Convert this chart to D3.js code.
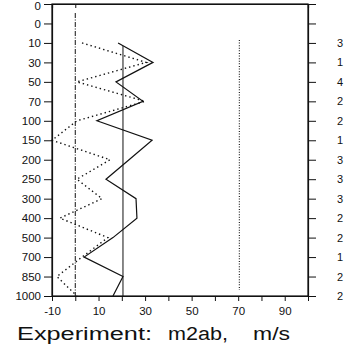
<!DOCTYPE html>
<html><head><meta charset="utf-8">
<script src="https://cdn.jsdelivr.net/npm/d3@7"></script>
<style>body{margin:0;background:#fff}svg{display:block}text{font-family:"Liberation Sans",Arial,sans-serif;fill:#111}</style>
</head><body>
<script>
// pressure levels (top to bottom)
const levels = ["0","0","10","30","50","70","100","150","200","250","300","400","500","700","850","1000"];
const profileIdx = [2,3,4,5,6,7,8,9,10,11,12,13,14,15];
const solidValues  = [18.4,33.4,17.5,29.1,9.3,33.0,23.1,13.2,26.1,26.5,16.2,3.8,20.5,16.2];
const dottedValues = [2.9,30.5,0.7,30.0,0.7,-10.0,14.9,0.7,11.5,-6.6,14.0,2.9,-7.9,0.7];
const counts = [3,1,4,2,2,1,3,3,3,2,2,1,2,2];
const xTicks = [-10,0,10,20,30,40,50,60,70,80,90,100];
const xLabels = [-10,10,30,50,70,90];
const zeroLine = 0, solidMean = 20.5, dottedMean = 70.5;

const W=350,H=361;
const svg=d3.select("body").append("svg").attr("width",W).attr("height",H);
const x=d3.scaleLinear().domain([-10,100]).range([52,308]);
const y=d3.scalePoint().domain(d3.range(levels.length)).range([4,296]);
const ink="#111";

// frame
svg.append("rect").attr("x",x(-10)).attr("y",y(0)).attr("width",x(100)-x(-10)).attr("height",y(15)-y(0))
  .attr("fill","none").attr("stroke",ink).attr("stroke-width",1.2);

// left axis
const gl=svg.append("g").attr("transform",`translate(${x(-10)},0)`)
  .call(d3.axisLeft(y).tickSize(8).tickPadding(3).tickFormat(i=>levels[i]));
gl.selectAll("text").attr("font-size",11.5).attr("dy",(d)=>d===0?"0.5em":"0.32em");
// right axis with counts
const cmap={}; profileIdx.forEach((k,i)=>cmap[k]=counts[i]);
const gr=svg.append("g").attr("transform",`translate(${x(100)},0)`)
  .call(d3.axisRight(y).tickSize(8).tickPadding(21).tickFormat(i=>cmap[i]!==undefined?cmap[i]:""));
gr.selectAll("text").attr("font-size",11);
// bottom axis
const gb=svg.append("g").attr("transform",`translate(0,${y(15)})`)
  .call(d3.axisBottom(x).tickValues(xTicks).tickSize(5).tickPadding(6).tickSizeOuter(0)
    .tickFormat(d=>xLabels.includes(d)?d:""));
gb.selectAll("text").attr("font-size",11.5);
// top axis
svg.append("g").attr("transform",`translate(0,${y(0)})`)
  .call(d3.axisTop(x).tickValues([zeroLine]).tickSize(-4).tickFormat(""));
svg.selectAll(".domain").attr("stroke",ink).attr("stroke-width",1.2);
svg.selectAll(".tick line").attr("stroke",ink).attr("stroke-width",1);

// reference verticals
svg.append("line").attr("x1",x(zeroLine)).attr("x2",x(zeroLine)).attr("y1",y(0)+9).attr("y2",y(15))
  .attr("stroke",ink).attr("stroke-width",1).attr("stroke-dasharray","5,1.5,1,1.5");
svg.append("line").attr("x1",x(solidMean)).attr("x2",x(solidMean)).attr("y1",y(2)+3).attr("y2",y(15))
  .attr("stroke",ink).attr("stroke-width",1);
svg.append("line").attr("x1",x(dottedMean)).attr("x2",x(dottedMean)).attr("y1",y(2)-3).attr("y2",y(15)-6)
  .attr("stroke",ink).attr("stroke-width",1.1).attr("stroke-dasharray","1,1.6");

// profiles
const line=d3.line().x(d=>x(d.v)).y(d=>y(d.k));
svg.append("path").datum(profileIdx.map((k,i)=>({k,v:solidValues[i]})))
  .attr("d",line).attr("fill","none").attr("stroke",ink).attr("stroke-width",1.2);
svg.append("path").datum(profileIdx.map((k,i)=>({k,v:dottedValues[i]})))
  .attr("d",line).attr("fill","none").attr("stroke",ink).attr("stroke-width",1.4).attr("stroke-dasharray","1.4,3");

// title
const title=[["Experiment:",17,135],["m2ab,",168,60],["m/s",253,37]];
title.forEach(([t,tx,tl])=>svg.append("text").attr("x",tx).attr("y",340).attr("font-size",18)
  .attr("textLength",tl).attr("lengthAdjust","spacingAndGlyphs").text(t));
</script>
</body></html>
